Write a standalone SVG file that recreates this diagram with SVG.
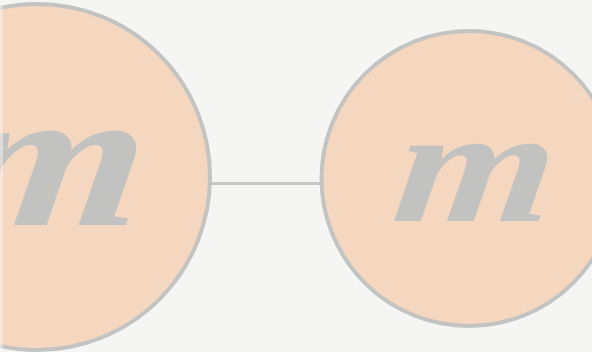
<svg xmlns="http://www.w3.org/2000/svg" width="592" height="352" viewBox="0 0 592 352">
  <style>
    .node { fill: #f5d6bf; stroke: #c3c3c1; stroke-width: 4; }
    .label { fill: #c2c2c0; font-family: "Liberation Serif", "DejaVu Serif", serif; font-weight: bold; font-style: italic; text-anchor: middle; }
    .edge { stroke: #c6c6c4; stroke-width: 3; fill: none; }
  </style>
  <rect x="0" y="0" width="592" height="352" fill="#f5f5f3"/>
  <g id="connectors">
    <line class="edge" x1="210" y1="183.5" x2="322" y2="183.5"/>
  </g>
  <g id="node-left">
    <circle class="node" cx="37" cy="177" r="173"/>
    <text class="label" transform="translate(42,225) skewX(-7) scale(1.25,1)" font-size="200">m</text>
  </g>
  <g id="node-right">
    <circle class="node" cx="469" cy="178.5" r="147.5"/>
    <text class="label" transform="translate(470,221) skewX(-7) scale(1.25,1)" font-size="164">m</text>
  </g>
  <rect x="0" y="0" width="3" height="352" fill="#f5f5f3" opacity="0.5"/>
</svg>
